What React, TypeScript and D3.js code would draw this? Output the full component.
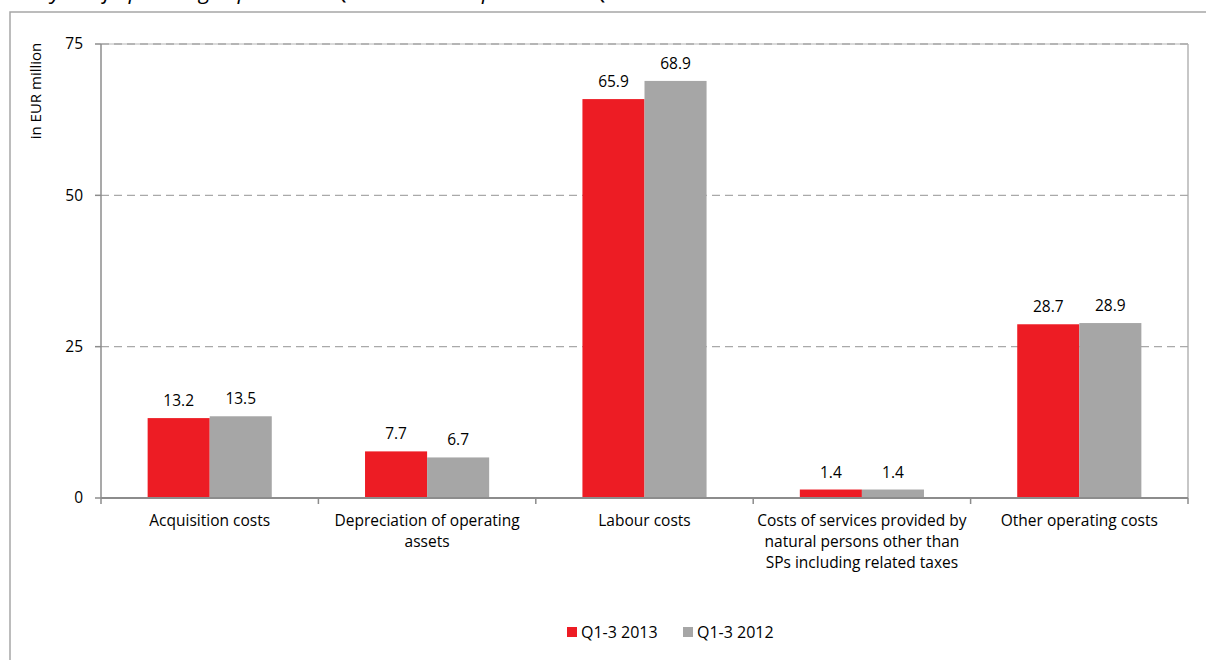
import React from "react";
import * as d3 from "d3";

const categories: string[][] = [
  ["Acquisition costs"],
  ["Depreciation of operating", "assets"],
  ["Labour costs"],
  ["Costs of services provided by", "natural persons other than", "SPs including related taxes"],
  ["Other operating costs"],
];
const series2013: number[] = [13.2, 7.7, 65.9, 1.4, 28.7];
const series2012: number[] = [13.5, 6.7, 68.9, 1.4, 28.9];
const seriesNames: string[] = ["Q1-3 2013", "Q1-3 2012"];
const yTicks: number[] = [0, 25, 50, 75];
const titleText = "Analysis of operating expenses in Q1-3 2013 compared with Q1-3 2012";
const yAxisTitle = "in EUR million";

const W = 1206;
const H = 660;
const FONT = "'Open Sans', 'Noto Sans', sans-serif";
const RED = "#ED1C24";
const GRAY = "#A6A6A6";

export default function App() {
  const left = 101;
  const right = 1188;
  const top = 44;
  const bottom = 498;

  const x = d3
    .scaleBand<number>()
    .domain(categories.map((_, i) => i))
    .range([left, right])
    .paddingInner(0)
    .paddingOuter(0);
  const y = d3.scaleLinear().domain([0, 75]).range([bottom, top]);
  const bw = x.bandwidth();
  const barW = bw * 0.2855;

  const seriesList = [series2013, series2012];
  const colors = [RED, GRAY];

  return (
    <div style={{ position: "absolute", left: 0, top: 0 }}>
      <svg width={W} height={H} style={{ display: "block", background: "#fff" }}>
        {/* title, cut off at the top edge as in the reference */}
        <text x={8} y={-1} fontFamily={FONT} fontStyle="italic" fontSize={22} fill="#000">
          {titleText}
        </text>
        {/* outer frame */}
        <rect x={10} y={12} width={1220} height={700} fill="none" stroke="#a6a6a6" strokeWidth={1.5} />

        {/* plot border */}
        <line x1={right} x2={right} y1={top} y2={bottom} stroke="#b4b4b4" strokeWidth={1.5} />
        <line x1={left} x2={right} y1={top} y2={top} stroke="#cfcfcf" strokeWidth={1.5} />

        {/* gridlines */}
        {yTicks
          .filter((t) => t > 0)
          .map((t) => (
            <line
              key={"g" + t}
              x1={left}
              x2={right}
              y1={y(t)}
              y2={y(t)}
              stroke="#a9a9a9"
              strokeWidth={1.4}
              strokeDasharray="8,5"
            />
          ))}

        {/* bars */}
        {seriesList.map((s, si) =>
          s.map((v, i) => {
            const cx = (x(i) as number) + bw / 2;
            const bx = cx - barW + si * barW;
            return (
              <g key={`b${si}-${i}`}>
                <rect x={bx} y={y(v)} width={barW} height={y(0) - y(v)} fill={colors[si]} />
                <text
                  x={bx + barW / 2}
                  y={y(v) - 12}
                  textAnchor="middle"
                  fontFamily={FONT}
                  fontSize={15.5}
                  fill="#000"
                >
                  {v.toFixed(1)}
                </text>
              </g>
            );
          })
        )}

        {/* y axis */}
        <line x1={left} x2={left} y1={top} y2={bottom + 6} stroke="#8c8c8c" strokeWidth={1.5} />
        {yTicks.map((t) => (
          <g key={"yt" + t}>
            <line x1={left - 6} x2={left} y1={y(t)} y2={y(t)} stroke="#8c8c8c" strokeWidth={1.5} />
            <text
              x={83}
              y={y(t)}
              dy="0.35em"
              textAnchor="end"
              fontFamily={FONT}
              fontSize={15.5}
              fill="#000"
            >
              {t}
            </text>
          </g>
        ))}
        <text
          transform={`translate(41,91) rotate(-90)`}
          textAnchor="middle"
          fontFamily={FONT}
          fontSize={15}
          fill="#000"
        >
          {yAxisTitle}
        </text>

        {/* x axis */}
        <line x1={left} x2={right} y1={bottom} y2={bottom} stroke="#8c8c8c" strokeWidth={2} />
        {categories.map((_, i) => (
          <line
            key={"xt" + i}
            x1={(x(i) as number) + bw}
            x2={(x(i) as number) + bw}
            y1={bottom}
            y2={bottom + 6}
            stroke="#8c8c8c"
            strokeWidth={1.5}
          />
        ))}
        {categories.map((lines, i) => (
          <text
            key={"xl" + i}
            x={(x(i) as number) + bw / 2}
            y={526}
            textAnchor="middle"
            fontFamily={FONT}
            fontSize={15.5}
            fill="#000"
          >
            {lines.map((ln, li) => (
              <tspan key={li} x={(x(i) as number) + bw / 2} dy={li === 0 ? 0 : 21}>
                {ln}
              </tspan>
            ))}
          </text>
        ))}

        {/* legend */}
        {seriesNames.map((name, i) => {
          const lx = 567 + i * 116;
          return (
            <g key={"lg" + i}>
              <rect x={lx} y={627} width={10} height={10} fill={colors[i]} />
              <text x={lx + 14} y={638} fontFamily={FONT} fontSize={16} fill="#000">
                {name}
              </text>
            </g>
          );
        })}
      </svg>
    </div>
  );
}
